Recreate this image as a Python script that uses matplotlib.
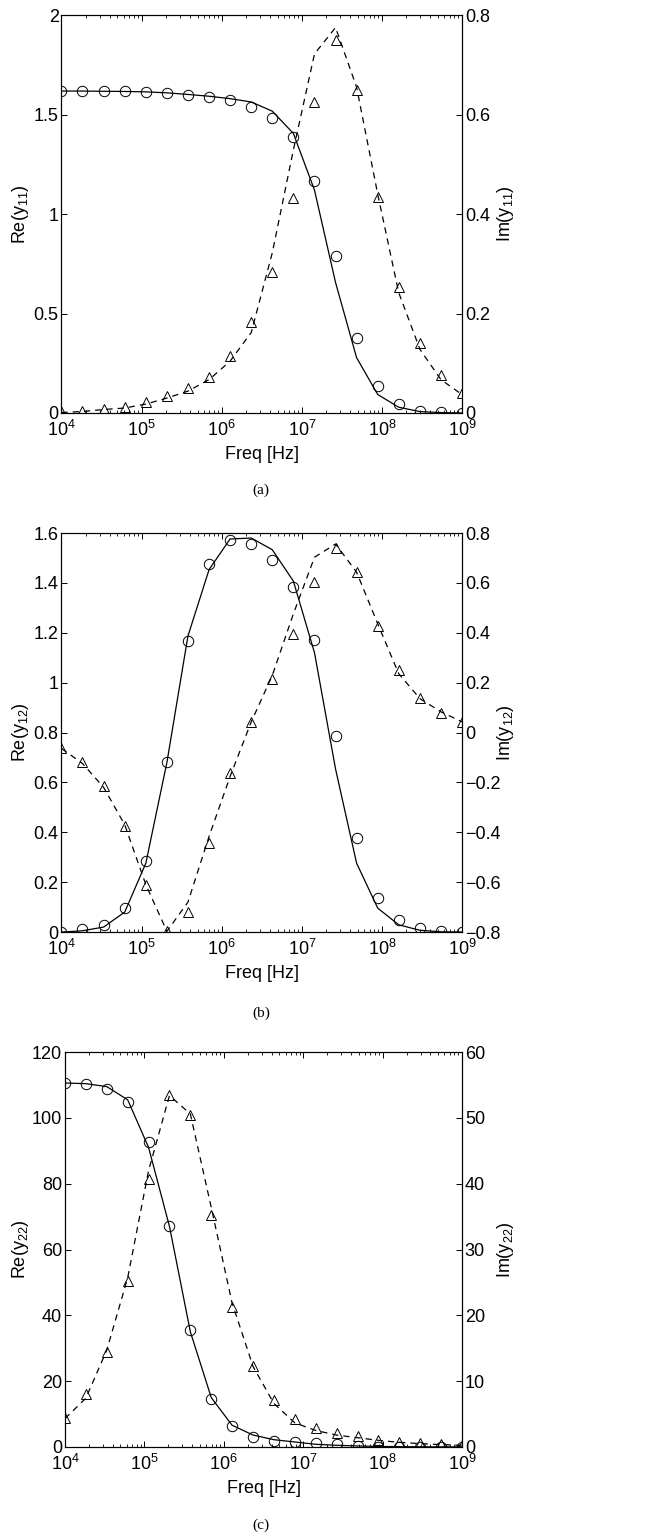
import numpy as np
import matplotlib
matplotlib.use("Agg")
import matplotlib.pyplot as plt
from matplotlib.ticker import FixedLocator, FuncFormatter, LogLocator, LogFormatterSciNotation

plt.rcParams['font.family'] = ['Liberation Sans', 'DejaVu Sans']
plt.rcParams['mathtext.fontset'] = 'custom'
plt.rcParams['mathtext.rm'] = 'Liberation Sans'
plt.rcParams['mathtext.it'] = 'Liberation Sans:italic'
plt.rcParams['mathtext.bf'] = 'Liberation Sans:bold'

# frequency grid (Hz)
freq = [1.00e4, 1.83e4, 3.36e4, 6.16e4, 1.13e5, 2.07e5, 3.79e5, 6.95e5, 1.27e6, 2.34e6,
        4.28e6, 7.85e6, 1.44e7, 2.64e7, 4.83e7, 8.86e7, 1.62e8, 2.98e8, 5.46e8, 1.00e9]

# panel (a) y11
re11_meas = [1.618, 1.618, 1.618, 1.618, 1.613, 1.607, 1.598, 1.588, 1.572, 1.538,
             1.483, 1.385, 1.168, 0.788, 0.377, 0.135, 0.045, 0.012, 0.003, 0.001]
re11_model = [1.618, 1.618, 1.617, 1.616, 1.614, 1.609, 1.601, 1.592, 1.580, 1.563,
              1.517, 1.405, 1.120, 0.655, 0.278, 0.093, 0.029, 0.007, 0.002, 0.000]
im11_meas = [0.003, 0.005, 0.008, 0.013, 0.022, 0.034, 0.050, 0.073, 0.114, 0.182,
             0.283, 0.432, 0.625, 0.749, 0.650, 0.434, 0.254, 0.141, 0.077, 0.040]
im11_model = [0.001, 0.003, 0.007, 0.010, 0.018, 0.030, 0.044, 0.067, 0.104, 0.162,
              0.322, 0.529, 0.722, 0.775, 0.655, 0.440, 0.242, 0.128, 0.067, 0.037]

# panel (b) y12
re12_meas = [0.000, 0.012, 0.029, 0.096, 0.283, 0.680, 1.167, 1.476, 1.573, 1.556,
             1.493, 1.384, 1.171, 0.787, 0.376, 0.136, 0.047, 0.016, 0.005, 0.000]
re12_model = [0.000, 0.005, 0.020, 0.080, 0.276, 0.680, 1.187, 1.453, 1.576, 1.580,
              1.533, 1.407, 1.120, 0.653, 0.276, 0.096, 0.029, 0.007, 0.001, 0.000]
im12_meas = [-0.064, -0.120, -0.215, -0.375, -0.611, -0.795, -0.721, -0.441, -0.164, 0.043,
             0.216, 0.396, 0.605, 0.739, 0.645, 0.429, 0.252, 0.140, 0.080, 0.043]
im12_model = [-0.064, -0.124, -0.220, -0.370, -0.610, -0.797, -0.680, -0.417, -0.177, 0.043,
              0.229, 0.476, 0.703, 0.756, 0.643, 0.436, 0.236, 0.136, 0.083, 0.043]

# panel (c) y22
re22_meas = [110.6, 110.3, 108.8, 104.8, 92.6, 67.0, 35.5, 14.7, 6.3, 3.0,
             1.8, 1.5, 1.2, 0.8, 0.3, 0.0, 0.0, 0.0, 0.0, 0.0]
re22_model = [110.6, 110.4, 109.5, 105.5, 91.0, 67.0, 35.0, 15.0, 6.6, 3.6,
              2.2, 1.5, 0.8, 0.5, 0.3, 0.15, 0.08, 0.04, 0.02, 0.01]
im22_meas = [4.47, 8.1, 14.5, 25.2, 40.7, 53.5, 50.4, 35.2, 21.2, 12.3,
             7.1, 4.3, 2.9, 2.1, 1.6, 1.1, 0.76, 0.6, 0.4, 0.25]
im22_model = [4.3, 7.4, 14.7, 25.7, 42.0, 53.4, 50.6, 36.4, 21.9, 12.2,
              6.6, 3.65, 2.5, 1.8, 1.4, 1.0, 0.7, 0.5, 0.35, 0.25]

panels = [
    dict(re_m=re11_meas, re_s=re11_model, im_m=im11_meas, im_s=im11_model,
         rlim=(0, 2), rticks=[0, 0.5, 1, 1.5, 2], ilim=(0, 0.8), iticks=[0, 0.2, 0.4, 0.6, 0.8],
         rlab=r"Re(y$_{11}$)", ilab=r"Im(y$_{11}$)", cap="(a)",
         rect=[0.093, 0.7313, 0.606, 0.2589], cap_y=0.681),
    dict(re_m=re12_meas, re_s=re12_model, im_m=im12_meas, im_s=im12_model,
         rlim=(0, 1.6), rticks=[0, 0.2, 0.4, 0.6, 0.8, 1, 1.2, 1.4, 1.6],
         ilim=(-0.8, 0.8), iticks=[-0.8, -0.6, -0.4, -0.2, 0, 0.2, 0.4, 0.6, 0.8],
         rlab=r"Re(y$_{12}$)", ilab=r"Im(y$_{12}$)", cap="(b)",
         rect=[0.093, 0.3936, 0.606, 0.2596], cap_y=0.341),
    dict(re_m=re22_meas, re_s=re22_model, im_m=im22_meas, im_s=im22_model,
         rlim=(0, 120), rticks=[0, 20, 40, 60, 80, 100, 120],
         ilim=(0, 60), iticks=[0, 10, 20, 30, 40, 50, 60],
         rlab=r"Re(y$_{22}$)", ilab=r"Im(y$_{22}$)", cap="(c)",
         rect=[0.0983, 0.0586, 0.6007, 0.2569], cap_y=0.0075),
]

fig = plt.figure(figsize=(6.61, 15.37), dpi=100)
fmt = FuncFormatter(lambda v, p: f"{v:g}".replace("-", "\u2212"))
lw = 0.9
ms = 7.5

for p in panels:
    ax = fig.add_axes(p['rect'])
    ax2 = ax.twinx()
    ax.plot(freq, p['re_s'], color='k', lw=lw)
    ax.plot(freq, p['re_m'], ls='none', marker='o', mfc='none', mec='k', mew=0.7, ms=ms)
    ax2.plot(freq, p['im_s'], color='k', lw=lw, ls=(0, (5, 4)))
    ax2.plot(freq, p['im_m'], ls='none', marker='^', mfc='none', mec='k', mew=0.7, ms=ms)

    ax.set_xscale('log')
    ax.set_xlim(1e4, 1e9)
    ax.xaxis.set_major_locator(FixedLocator([1e4, 1e5, 1e6, 1e7, 1e8, 1e9]))
    ax.xaxis.set_major_formatter(LogFormatterSciNotation())
    ax.xaxis.set_minor_locator(LogLocator(base=10, subs=np.arange(2, 10), numticks=20))
    ax.set_ylim(*p['rlim'])
    ax.set_yticks(p['rticks'])
    ax.yaxis.set_major_formatter(fmt)
    ax2.set_ylim(*p['ilim'])
    ax2.set_yticks(p['iticks'])
    ax2.yaxis.set_major_formatter(fmt)

    ax.tick_params(axis='both', which='major', direction='in', length=4, width=0.7,
                   labelsize=13, top=True, pad=2)
    ax.tick_params(axis='x', which='minor', direction='in', length=2, width=0.6, top=True)
    ax.tick_params(axis='x', which='major', pad=5)
    ax2.tick_params(axis='y', direction='in', length=4, width=0.7, labelsize=13, pad=2)
    for a in (ax, ax2):
        for s in a.spines.values():
            s.set_linewidth(0.8)

    ax.set_xlabel("Freq [Hz]", fontsize=13, labelpad=4)
    ax.set_ylabel(p['rlab'], fontsize=13)
    ax2.set_ylabel(p['ilab'], fontsize=13)
    w_px = p['rect'][2] * 661
    ax.yaxis.set_label_coords((31 - p['rect'][0] * 661) / w_px, 0.5)
    ax2.yaxis.set_label_coords((495 - p['rect'][0] * 661) / w_px, 0.5)

    fig.text(0.395, p['cap_y'], p['cap'], ha='center', va='center',
             fontsize=11, family='Liberation Serif')

fig.savefig("out.png", dpi=100)
